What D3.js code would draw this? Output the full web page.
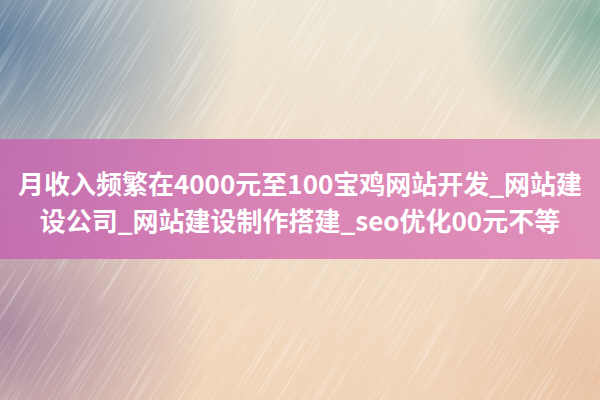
<!DOCTYPE html>
<html>
<head>
<meta charset="utf-8">
<script src="https://cdn.jsdelivr.net/npm/d3@7"></script>
<style>
  html, body { margin: 0; padding: 0; background: #efe4d2; }
  svg { display: block; }
</style>
</head>
<body>
<div id="banner"></div>
<script>
// text lines of the title band
const titleLines = [
  '月收入频繁在4000元至100宝鸡网站开发_网站建',
  '设公司_网站建设制作搭建_seo优化00元不等',
];

// soft colour patches of the background, [cx, cy, r, colour]
const blobs = [
  [0, 40, 240, '#5f7e9d'],
  [600, 20, 140, '#7fa99a'],
  [0, 330, 210, '#a6879f'],
  [600, 380, 180, '#e9c2a3'],
];

const bandStops = ['#c46ab0', '#d97fb4', '#df8ab8'];

const size = { width: 600, height: 400 };
const band = { top: 139, height: 120 };

const svg = d3.select('#banner')
  .append('svg')
  .attr('width', size.width)
  .attr('height', size.height);

const defs = svg.append('defs');

// base wash: cream on top, peach at the bottom
const base = defs.append('linearGradient')
  .attr('id', 'base')
  .attr('x1', 0).attr('y1', 0).attr('x2', 0).attr('y2', 1);
base.append('stop').attr('offset', '0%').attr('stop-color', '#ede6d5');
base.append('stop').attr('offset', '55%').attr('stop-color', '#f0dcc6');
base.append('stop').attr('offset', '100%').attr('stop-color', '#f1d4b8');

blobs.forEach((b, i) => {
  const g = defs.append('radialGradient')
    .attr('id', `blob${i}`)
    .attr('gradientUnits', 'userSpaceOnUse')
    .attr('cx', b[0]).attr('cy', b[1]).attr('r', b[2]);
  g.append('stop').attr('offset', '0%').attr('stop-color', b[3]).attr('stop-opacity', 0.95);
  g.append('stop').attr('offset', '100%').attr('stop-color', b[3]).attr('stop-opacity', 0);
});

const bandGrad = defs.append('linearGradient')
  .attr('id', 'band')
  .attr('x1', 0).attr('y1', 0).attr('x2', 1).attr('y2', 0);
bandStops.forEach((c, i) => {
  bandGrad.append('stop')
    .attr('offset', `${(i / (bandStops.length - 1)) * 100}%`)
    .attr('stop-color', c);
});

// streaky brushed texture
const streak = defs.append('filter')
  .attr('id', 'streak')
  .attr('x', 0).attr('y', 0).attr('width', '100%').attr('height', '100%');
streak.append('feTurbulence')
  .attr('type', 'fractalNoise')
  .attr('baseFrequency', '0.01 0.5')
  .attr('numOctaves', 2)
  .attr('seed', 4);
streak.append('feColorMatrix')
  .attr('type', 'matrix')
  .attr('values', '0 0 0 0 1  0 0 0 0 1  0 0 0 0 1  0 0 0 2 -1');

svg.append('rect')
  .attr('width', size.width)
  .attr('height', size.height)
  .attr('fill', 'url(#base)');

svg.selectAll('.blob')
  .data(blobs)
  .join('rect')
  .attr('class', 'blob')
  .attr('width', size.width)
  .attr('height', size.height)
  .attr('fill', (d, i) => `url(#blob${i})`);

svg.append('g')
  .attr('transform', 'translate(300,200) rotate(-58) translate(-500,-500)')
  .append('rect')
  .attr('width', 1000)
  .attr('height', 1000)
  .attr('filter', 'url(#streak)')
  .attr('opacity', 0.5);

svg.append('rect')
  .attr('x', 0)
  .attr('y', band.top)
  .attr('width', size.width)
  .attr('height', band.height)
  .attr('fill', 'url(#band)')
  .attr('opacity', 0.93);

const y = d3.scalePoint()
  .domain(d3.range(titleLines.length))
  .range([182, 219]);

svg.selectAll('.title')
  .data(titleLines)
  .join('text')
  .attr('class', 'title')
  .attr('x', size.width / 2)
  .attr('y', (d, i) => y(i))
  .attr('text-anchor', 'middle')
  .attr('dominant-baseline', 'central')
  .attr('fill', '#ffffff')
  .attr('font-family', '"Noto Sans CJK SC", sans-serif')
  .attr('font-weight', 700)
  .attr('font-size', '26px')
  .text((d) => d);
</script>
</body>
</html>
